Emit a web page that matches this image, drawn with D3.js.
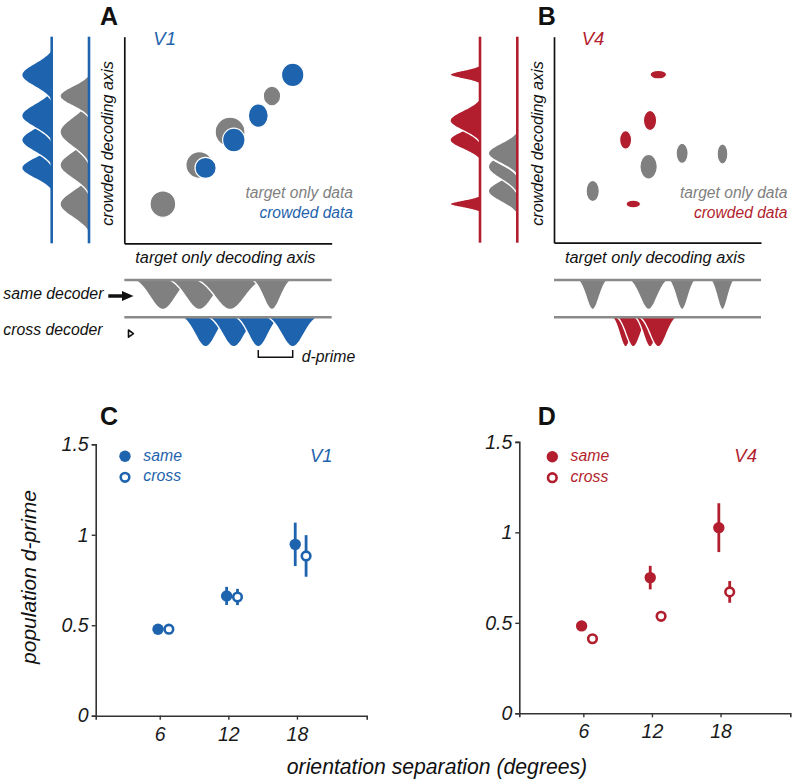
<!DOCTYPE html>
<html><head><meta charset="utf-8">
<script src="https://cdn.jsdelivr.net/npm/d3@7"></script>
<style>body{margin:0;background:#fff}svg text{font-family:"Liberation Sans",Arial,sans-serif}</style>
</head><body>
<svg id="fig" width="795" height="784"></svg>
<script>
// ---------- DATA ----------
// Panels C / D : population d-prime vs orientation separation
const orientations = [6, 12, 18];
const v1Same      = [0.478, 0.662, 0.947];
const v1SameErr   = [0.012, 0.05, 0.12];
const v1Cross     = [0.478, 0.656, 0.883];
const v1CrossErr  = [0.012, 0.045, 0.115];
const v4Same      = [0.483, 0.75, 1.026];
const v4SameErr   = [0.012, 0.065, 0.135];
const v4Cross     = [0.412, 0.536, 0.671];
const v4CrossErr  = [0.01, 0.012, 0.06];
const yTickValues = [0, 0.5, 1, 1.5];
const yTickLabels = ["0", "0.5", "1", "1.5"];
const xTickLabels = ["6", "12", "18"];

// Panels A / B : schematic decoding-space clouds (axis units 0-100)
const v1TargetX  = [18.6, 36.2, 51.0, 71.2];
const v1TargetY  = [19.0, 37.9, 53.9, 71.3];
const v1TargetSx = [6.2, 6.5, 7.2, 4.2];
const v1TargetSy = [6.4, 6.5, 7.1, 4.8];
const v1CrowdX   = [39.2, 52.8, 64.6, 81.2];
const v1CrowdY   = [36.5, 50.0, 61.8, 81.5];
const v1CrowdSx  = [5.1, 5.4, 4.8, 5.4];
const v1CrowdSy  = [5.1, 5.7, 5.7, 5.7];

const v4TargetX  = [18.7, 45.7, 61.9, 81.4];
const v4TargetY  = [25.1, 36.9, 43.4, 43.1];
const v4TargetSx = [3.2, 4.2, 2.9, 2.6];
const v4TargetSy = [5.2, 6.0, 4.9, 4.9];
const v4CrowdX   = [50.4, 46.4, 34.6, 38.3];
const v4CrowdY   = [81.6, 59.3, 49.9, 18.8];
const v4CrowdSx  = [4.0, 3.2, 2.9, 3.5];
const v4CrowdSy  = [2.1, 4.9, 4.5, 1.9];

// ---------- STYLE ----------
const BLUE = "#1e63ad", RED = "#b21e2e", GRAY = "#808080", LINEGRAY = "#8a8a8a";
const svg = d3.select("#fig");

function txt(x, y, s, opt = {}) {
  const t = svg.append("text").attr("x", x).attr("y", y).text(s)
    .attr("font-size", opt.size || 16)
    .attr("font-style", opt.italic === false ? "normal" : "italic")
    .attr("font-weight", opt.bold ? "bold" : "normal")
    .attr("fill", opt.fill || "#111")
    .attr("text-anchor", opt.anchor || "start");
  if (opt.rotate) t.attr("transform", `rotate(${opt.rotate},${x},${y})`);
  return t;
}

// truncated gaussian bump
const K = 2.2, NPTS = 48;
const E0 = Math.exp(-K * K / 2);
const bump = t => (Math.exp(-t * t / 2) - E0) / (1 - E0);

function zipPts(xs, ys, sx, sy) { return xs.map((v, i) => ({x: v, y: ys[i], sx: sx[i], sy: sy[i]})); }

function schematic(cfg) {
  const g = svg.append("g");
  const x = d3.scaleLinear().domain([0, 100]).range([cfg.x0, cfg.x0 + cfg.w]);
  const y = d3.scaleLinear().domain([0, 100]).range([cfg.y0, cfg.y0 - cfg.h]);
  const kx = cfg.w / 100, ky = cfg.h / 100;
  const targets = zipPts(cfg.tx, cfg.ty, cfg.tsx, cfg.tsy);
  const crowds = zipPts(cfg.cx, cfg.cy, cfg.csx, cfg.csy);
  const line = d3.line();

  // side (vertical) marginal distributions
  function sideDist(data, lineX, color, amp) {
    const sorted = data.slice().sort((a, b) => a.y - b.y); // lowest on screen drawn first
    sorted.forEach(d => {
      const pts = d3.range(NPTS + 1).map(i => {
        const t = -K + 2 * K * i / NPTS;
        return [lineX - amp * bump(t), y(d.y) + t * d.sy * ky];
      });
      g.append("path").attr("d", line(pts) + "Z").attr("fill", color);
      g.append("path").attr("d", line(pts)).attr("fill", "none").attr("stroke", "#fff").attr("stroke-width", 1.4);
    });
    g.append("line").attr("x1", lineX).attr("x2", lineX).attr("y1", y(100)).attr("y2", y(0))
      .attr("stroke", cfg.color).attr("stroke-width", 2.6);
  }
  sideDist(crowds, cfg.sideX[0], cfg.color, 30);
  sideDist(targets, cfg.sideX[1], GRAY, 29);

  // bottom (horizontal) marginal distributions
  function bottomDist(data, rowY, color) {
    const sorted = data.slice().sort((a, b) => a.x - b.x);
    sorted.forEach(d => {
      const pts = d3.range(NPTS + 1).map(i => {
        const t = -K + 2 * K * i / NPTS;
        return [x(d.x) + t * d.sx * kx, rowY + 29.5 * bump(t)];
      });
      g.append("path").attr("d", line(pts) + "Z").attr("fill", color);
      g.append("path").attr("d", line(pts)).attr("fill", "none").attr("stroke", "#fff").attr("stroke-width", 1.4);
    });
    g.append("line").attr("x1", x(0)).attr("x2", x(100)).attr("y1", rowY).attr("y2", rowY)
      .attr("stroke", LINEGRAY).attr("stroke-width", 2.6);
  }
  bottomDist(targets, cfg.rowY[0], GRAY);
  bottomDist(crowds, cfg.rowY[1], cfg.color);

  // axes
  g.append("g").attr("transform", `translate(${cfg.x0},0)`)
    .call(d3.axisLeft(y).ticks(0).tickSizeOuter(0))
    .call(a => a.select(".domain").attr("stroke", "#111").attr("stroke-width", 1.7));
  g.append("g").attr("transform", `translate(0,${cfg.y0})`)
    .call(d3.axisBottom(x).ticks(0).tickSizeOuter(0))
    .call(a => a.select(".domain").attr("stroke", "#111").attr("stroke-width", 1.7));

  // scatter clouds
  g.selectAll("ellipse.t").data(targets).join("ellipse").attr("class", "t")
    .attr("cx", d => x(d.x)).attr("cy", d => y(d.y))
    .attr("rx", d => d.sx * kx).attr("ry", d => d.sy * ky)
    .attr("fill", GRAY).attr("stroke", "#fff").attr("stroke-width", 1.2);
  g.selectAll("ellipse.c").data(crowds).join("ellipse").attr("class", "c")
    .attr("cx", d => x(d.x)).attr("cy", d => y(d.y))
    .attr("rx", d => d.sx * kx).attr("ry", d => d.sy * ky)
    .attr("fill", cfg.color).attr("stroke", "#fff").attr("stroke-width", 1.2);

  // texts
  txt(cfg.x0 + 11, 262.7, "target only decoding axis", {size: 16.3});
  txt(cfg.x0 - 11.5, 143.5, "crowded decoding axis", {size: 16.2, anchor: "middle", rotate: -90});
  txt(cfg.legendX, 198.3, "target only data", {size: 15.6, anchor: "end", fill: GRAY});
  txt(cfg.legendX, 218, "crowded data", {size: 15.6, anchor: "end", fill: cfg.color});
  txt(cfg.areaLabelX, 45, cfg.area, {size: 18.5, fill: cfg.color});
  txt(cfg.letterX, 25, cfg.letter, {size: 25, bold: true, italic: false});
  return {x, y};
}

const A = schematic({
  x0: 124.3, y0: 243.3, w: 207.4, h: 206.6, sideX: [51.7, 89], rowY: [280, 317.3],
  color: BLUE, tx: v1TargetX, ty: v1TargetY, tsx: v1TargetSx, tsy: v1TargetSy,
  cx: v1CrowdX, cy: v1CrowdY, csx: v1CrowdSx, csy: v1CrowdSy,
  legendX: 353, area: "V1", areaLabelX: 153.3, letter: "A", letterX: 100
});
schematic({
  x0: 554, y0: 242.7, w: 207, h: 206, sideX: [480, 517.3], rowY: [280, 317.3],
  color: RED, tx: v4TargetX, ty: v4TargetY, tsx: v4TargetSx, tsy: v4TargetSy,
  cx: v4CrowdX, cy: v4CrowdY, csx: v4CrowdSx, csy: v4CrowdSy,
  legendX: 787.5, area: "V4", areaLabelX: 581.7, letter: "B", letterX: 537.7
});

// decoder labels and arrows (panel A)
txt(3.3, 298.5, "same decoder", {size: 15.8});
txt(3.3, 334.5, "cross decoder", {size: 15.8});
svg.append("path").attr("d", "M108.3,294.3 L122,294.3 L122,291 L133.5,296 L122,301 L122,297.7 L108.3,297.7 Z").attr("fill", "#111");
svg.append("path").attr("d", "M128.5,330 L133.4,333.6 L128.5,337.2 Z").attr("fill", "#fff").attr("stroke", "#111").attr("stroke-width", 1.6).attr("stroke-linejoin", "round");
// d-prime bracket between last two crowded clouds
{
  const bx1 = A.x(v1CrowdX[2]), bx2 = A.x(v1CrowdX[3]);
  svg.append("path").attr("d", `M${bx1},350 L${bx1},357.3 L${bx2},357.3 L${bx2},350`)
    .attr("fill", "none").attr("stroke", "#111").attr("stroke-width", 1.5);
  txt(bx2 + 9, 361.5, "d-prime", {size: 15.8});
}

// ---------- PANELS C / D ----------
function dprimePanel(cfg) {
  const g = svg.append("g");
  const x = d3.scaleLinear().domain([0.4, 24.1]).range([cfg.ox, cfg.ox + 271]);
  const y = d3.scaleLinear().domain([0, 1.5]).range([cfg.oy, cfg.oy - 271.4]);
  const yAx = g.append("g").attr("transform", `translate(${cfg.ox},0)`)
    .call(d3.axisLeft(y).tickValues(yTickValues).tickFormat((d, i) => yTickLabels[i]).tickSizeOuter(0).tickSize(4).tickPadding(3));
  const xAx = g.append("g").attr("transform", `translate(0,${cfg.oy})`)
    .call(d3.axisBottom(x).tickValues(orientations).tickFormat((d, i) => xTickLabels[i]).tickSizeOuter(0).tickSize(4).tickPadding(7));
  [yAx, xAx].forEach(a => {
    a.select(".domain").attr("stroke", "#333").attr("stroke-width", 1.6);
    a.selectAll(".tick line").attr("stroke", "#333").attr("stroke-width", 1.4);
    a.selectAll(".tick text").attr("font-size", 19.5).attr("font-style", "italic").attr("fill", "#1a1a1a")
      .attr("font-family", '"Liberation Sans",Arial,sans-serif');
  });

  const same = orientations.map((o, i) => ({o, v: cfg.same[i], e: cfg.sameErr[i]}));
  const cross = orientations.map((o, i) => ({o, v: cfg.cross[i], e: cfg.crossErr[i]}));
  const offS = -0.15, offC = 0.8;
  g.selectAll("line.es").data(same).join("line").attr("class", "es")
    .attr("x1", d => x(d.o + offS)).attr("x2", d => x(d.o + offS))
    .attr("y1", d => y(d.v - d.e)).attr("y2", d => y(d.v + d.e))
    .attr("stroke", cfg.color).attr("stroke-width", 2.8);
  g.selectAll("line.ec").data(cross).join("line").attr("class", "ec")
    .attr("x1", d => x(d.o + offC)).attr("x2", d => x(d.o + offC))
    .attr("y1", d => y(d.v - d.e)).attr("y2", d => y(d.v + d.e))
    .attr("stroke", cfg.color).attr("stroke-width", 2.8);
  g.selectAll("circle.s").data(same).join("circle").attr("class", "s")
    .attr("cx", d => x(d.o + offS)).attr("cy", d => y(d.v)).attr("r", 5.7).attr("fill", cfg.color);
  g.selectAll("circle.c").data(cross).join("circle").attr("class", "c")
    .attr("cx", d => x(d.o + offC)).attr("cy", d => y(d.v)).attr("r", 4.3)
    .attr("fill", "#fff").attr("stroke", cfg.color).attr("stroke-width", 2.6);

  // legend
  g.append("circle").attr("cx", cfg.legX).attr("cy", cfg.legY).attr("r", 5.7).attr("fill", cfg.color);
  g.append("circle").attr("cx", cfg.legX).attr("cy", cfg.legY + 21).attr("r", 4.3)
    .attr("fill", "#fff").attr("stroke", cfg.color).attr("stroke-width", 2.6);
  txt(cfg.legX + 18.3, cfg.legY + 4.5, "same", {size: 15.8, fill: cfg.color});
  txt(cfg.legX + 18.3, cfg.legY + 25, "cross", {size: 15.8, fill: cfg.color});
  txt(cfg.areaX, 461.7, cfg.area, {size: 18.5, fill: cfg.color});
  txt(cfg.letterX, 425, cfg.letter, {size: 25, bold: true, italic: false});
}

dprimePanel({ox: 95.7, oy: 715.7, color: BLUE, same: v1Same, sameErr: v1SameErr, cross: v1Cross, crossErr: v1CrossErr,
  legX: 125, legY: 456.3, area: "V1", areaX: 310, letter: "C", letterX: 100});
dprimePanel({ox: 519.3, oy: 713.3, color: RED, same: v4Same, sameErr: v4SameErr, cross: v4Cross, crossErr: v4CrossErr,
  legX: 552.3, legY: 456.7, area: "V4", areaX: 734.3, letter: "D", letterX: 537.7});

txt(36, 577, "population d-prime", {size: 21, anchor: "middle", rotate: -90});
txt(437, 774, "orientation separation (degrees)", {size: 21.2, anchor: "middle"});
</script>
</body></html>
